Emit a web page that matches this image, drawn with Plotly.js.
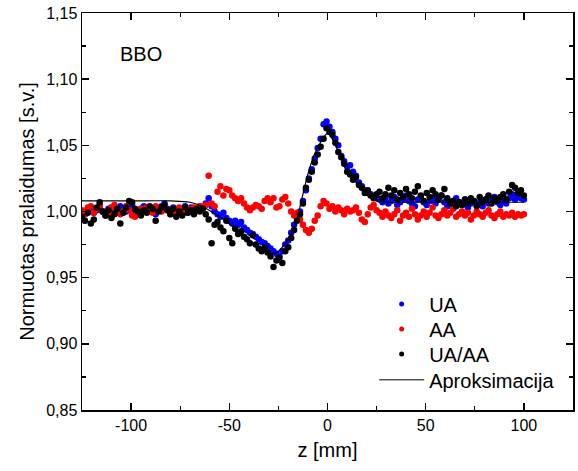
<!DOCTYPE html>
<html>
<head>
<meta charset="utf-8">
<script src="https://cdn.plot.ly/plotly-3.0.1.min.js"></script>
<style>html,body{margin:0;padding:0;background:#fff;}#chart{width:578px;height:471px;}</style>
</head>
<body>
<div id="chart"></div>
<script>
// scan positions z [mm]: start -125, step 1.5, 151 points
var zStart = -125, zStep = 1.5, zCount = 151;
var z = [];
for (var i = 0; i < zCount; i++) z.push(zStart + zStep * i);

var uaValues = [
1.000,0.998,1.002,1.003,0.999,1.001,1.004,1.000,0.997,1.002,
1.003,1.001,0.999,1.004,1.002,1.000,1.003,1.005,1.001,0.999,
1.002,1.004,1.001,1.003,1.000,0.998,1.002,1.004,1.006,1.002,
1.000,1.003,1.001,0.999,1.002,1.004,1.001,1.003,1.000,1.002,1.004,
1.003,1.006,1.010,1.004,1.000,0.998,0.996,0.999,0.995,0.993,
0.991,0.993,0.990,0.992,0.988,0.986,0.984,0.983,0.981,0.979,0.977,0.976,0.974,
0.972,0.970,0.968,0.966,0.970,0.975,0.978,0.984,0.990,0.995,1.000,1.008,1.016,
1.025,1.032,1.040,1.048,1.055,1.066,1.068,
1.064,1.060,1.055,1.050,1.042,1.038,1.034,1.035,1.030,1.027,1.022,1.019,1.016,1.015,1.013,1.011,1.010,
1.009,1.007,1.010,1.006,1.008,1.011,1.005,1.007,1.009,1.012,
1.008,1.006,1.004,1.009,1.011,1.007,1.005,1.008,1.010,1.006,
1.009,1.012,1.007,1.004,1.006,1.008,1.010,1.007,1.005,1.009,
1.003,1.006,1.008,1.005,1.007,1.004,1.009,1.006,1.008,1.011,
1.007,1.005,1.008,1.006,1.010,1.013,1.009,1.012,1.010,1.009
];

var aaValues = [
1.001,0.998,1.003,1.004,0.999,1.002,1.005,1.000,0.997,0.999,
1.003,1.005,1.002,0.998,1.000,1.004,1.001,0.997,0.996,0.998,
1.002,1.000,1.003,1.001,0.999,1.004,1.002,1.000,1.003,1.001,
0.998,1.002,1.000,1.003,1.001,0.999,1.002,1.000,1.003,1.002,1.004,
1.003,1.005,1.027,1.006,1.004,1.015,1.019,1.012,1.017,1.016,
1.012,1.010,1.008,1.010,1.006,1.003,1.001,1.003,1.005,1.004,1.002,1.008,1.010,
1.007,1.010,1.003,1.004,1.009,1.011,1.006,1.000,0.997,0.999,0.994,0.990,0.986,
0.984,0.987,0.993,0.997,1.004,1.008,1.006,
1.002,1.004,1.000,1.003,1.001,0.998,1.002,1.000,1.001,1.003,0.999,0.994,0.992,0.998,1.003,1.005,1.001,
0.999,0.996,1.000,0.997,0.995,0.998,1.001,0.993,0.997,0.999,
0.996,1.002,0.998,0.994,0.997,1.000,0.996,0.999,1.003,0.997,
0.995,0.998,1.001,0.997,0.999,1.002,0.996,0.998,1.000,0.997,
0.999,0.994,0.997,1.000,0.998,0.996,0.999,1.001,0.997,0.995,
0.998,1.000,0.996,0.998,0.997,0.999,0.996,0.998,0.997,0.998
];

var uaAaValues = [
0.996,0.993,0.999,0.991,0.994,1.003,1.007,1.000,0.997,1.001,
0.995,0.998,1.002,0.991,0.999,1.003,1.008,1.007,1.002,1.000,
0.997,1.001,0.999,1.004,1.002,0.993,1.000,1.003,1.005,1.001,
0.998,1.002,0.996,1.000,0.997,1.003,0.999,1.001,0.998,1.002,1.000,
1.002,0.998,0.994,0.976,0.990,0.992,0.988,0.985,0.993,0.980,
0.976,0.987,0.983,0.985,0.981,0.979,0.976,0.982,0.975,0.972,0.970,0.973,0.969,
0.966,0.958,0.963,0.965,0.961,0.970,0.973,0.980,0.986,0.993,0.998,1.006,1.018,
1.024,1.030,1.037,1.043,1.049,1.055,1.063,
1.060,1.058,1.052,1.045,1.041,1.036,1.030,1.028,1.024,1.026,1.020,1.018,1.014,1.016,1.012,1.010,1.013,
1.015,1.010,1.013,1.018,1.012,1.016,1.009,1.014,1.011,1.017,
1.013,1.010,1.015,1.019,1.012,1.008,1.014,1.011,1.016,1.013,
1.009,1.012,1.017,1.010,1.006,1.008,1.004,1.007,1.005,1.009,
1.006,1.010,1.008,1.004,1.011,1.007,1.009,1.012,1.006,1.010,
1.008,1.011,1.013,1.009,1.015,1.020,1.018,1.014,1.016,1.012
];

var fitZ = [-125,-100,-80,-70,-64,-58,-52,-47,-42,-38,-34,-31,-28,-25,-22,-19,-16,-13,-10,-7,-4,-2,0,2,4,7,10,13,16,19,22,25,30,40,60,80,100];
var fitV = [1.008,1.008,1.008,1.007,1.004,0.999,0.993,0.987,0.980,0.976,0.972,0.970,0.968,0.970,0.975,0.982,0.992,1.010,1.028,1.042,1.051,1.056,1.059,1.056,1.050,1.041,1.034,1.026,1.019,1.014,1.010,1.008,1.007,1.007,1.007,1.007,1.007];

var xTickVals = [-100,-50,0,50,100];
var xTickText = ['-100','-50','0','50','100'];
var seriesNames = ['UA','AA','UA/AA','Aproksimacija'];
var seriesColors = ['#0000ff','#ff0000','#000000','#000000'];

var font = 'Arial, "Liberation Sans", sans-serif';
var mk = 6.5;
var traces = [
  {x: z, y: uaValues, mode: 'markers', type: 'scatter', marker: {color: seriesColors[0], size: mk}, showlegend: false},
  {x: z, y: aaValues, mode: 'markers', type: 'scatter', marker: {color: seriesColors[1], size: mk}, showlegend: false},
  {x: z, y: uaAaValues, mode: 'markers', type: 'scatter', marker: {color: seriesColors[2], size: mk}, showlegend: false},
  {x: fitZ, y: fitV, mode: 'lines', type: 'scatter', line: {color: seriesColors[3], width: 1.2, shape: 'spline', smoothing: 1}, showlegend: false},
  // legend entries (one legend box per row for exact spacing)
  {x: [null], y: [null], name: seriesNames[0], legend: 'legend', mode: 'markers', type: 'scatter', marker: {color: seriesColors[0], size: 5}},
  {x: [null], y: [null], name: seriesNames[1], legend: 'legend2', mode: 'markers', type: 'scatter', marker: {color: seriesColors[1], size: 5}},
  {x: [null], y: [null], name: seriesNames[2], legend: 'legend3', mode: 'markers', type: 'scatter', marker: {color: seriesColors[2], size: 5}},
  {x: [null], y: [null], name: seriesNames[3], legend: 'legend4', mode: 'lines', type: 'scatter', line: {color: seriesColors[3], width: 1}}
];

var axisCommon = {
  showline: true, linecolor: '#000', linewidth: 1.5, mirror: 'ticks',
  ticks: 'inside', ticklen: 7, tickwidth: 1.5, tickcolor: '#000',
  showgrid: false, zeroline: false,
  tickfont: {family: font, size: 16, color: '#000'},
  minor: {ticks: 'inside', ticklen: 4, tickwidth: 1.2, tickcolor: '#000', showgrid: false}
};

function legendAt(yPaper) {
  return {
    x: 0.595, y: yPaper, xanchor: 'left', yanchor: 'middle',
    bgcolor: 'rgba(0,0,0,0)', borderwidth: 0,
    font: {family: font, size: 20, color: '#000'},
    itemwidth: 45
  };
}

var layout = {
  width: 578, height: 471,
  margin: {l: 82, r: 5, t: 13, b: 61},
  paper_bgcolor: '#fff', plot_bgcolor: '#fff',
  separators: ', ',
  showlegend: true,
  xaxis: Object.assign({}, axisCommon, {
    range: [-125, 125], tickmode: 'array', tickvals: xTickVals, ticktext: xTickText,
    minor: Object.assign({}, axisCommon.minor, {tickmode: 'array', tickvals: [-125,-75,-25,25,75,125]}),
    title: {text: 'z [mm]', font: {family: font, size: 20, color: '#000'}, standoff: 10}
  }),
  yaxis: Object.assign({}, axisCommon, {
    range: [0.85, 1.15], tickmode: 'linear', tick0: 0.85, dtick: 0.05, tickformat: '.2f',
    minor: Object.assign({}, axisCommon.minor, {dtick: 0.025}),
    title: {text: 'Normuotas pralaidumas [s.v.]', font: {family: font, size: 20, color: '#000'}, standoff: 6}
  }),
  legend: legendAt(0.267),
  legend2: legendAt(0.204),
  legend3: legendAt(0.141),
  legend4: legendAt(0.076),
  annotations: [{
    xref: 'paper', yref: 'paper', x: 0.073, y: 0.897, xanchor: 'left', yanchor: 'middle',
    text: 'BBO', showarrow: false, font: {family: font, size: 20, color: '#000'}
  }]
};

Plotly.newPlot('chart', traces, layout, {displayModeBar: false, staticPlot: true});
</script>
</body>
</html>
